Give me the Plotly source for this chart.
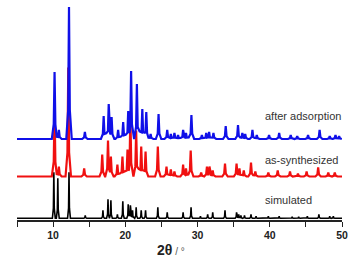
import plotly.graph_objects as go

# ---- data (peak position in 2θ, peak height above baseline) ----
blue_pos = [10.2, 10.8, 12.2, 14.4, 17.0, 17.7, 18.1, 19.0, 19.7, 20.4, 20.8, 21.6, 22.35, 22.9, 23.5,
            24.6, 25.8, 26.3, 26.8, 27.3, 28.0, 28.4, 29.15, 30.6, 31.2, 31.6, 32.2, 33.9, 35.6, 36.2,
            36.6, 37.6, 38.2, 39.9, 41.3, 42.9, 43.8, 45.3, 46.9, 48.3, 49.1, 49.6]
blue_h = [67, 9, 132, 7, 23, 35, 22, 9, 17, 28, 68, 55, 30, 27, 5,
          25, 9, 5, 6, 4, 9, 6, 24, 4, 6, 7, 6, 13, 14, 6,
          5, 9, 4, 4, 6, 4, 3, 4, 9, 3, 4, 3]

red_pos = [10.2, 10.8, 12.1, 14.3, 16.8, 17.6, 18.0, 18.9, 19.6, 20.3, 20.7, 21.5, 22.2, 22.8,
           24.5, 25.7, 26.3, 26.8, 28.0, 28.4, 29.05, 30.5, 31.3, 31.65, 32.1, 33.8, 35.4, 35.8,
           36.4, 37.4, 38.0, 39.8, 41.1, 42.8, 43.9, 45.1, 46.7, 48.1, 49.0]
red_h = [67, 10, 109, 8, 22, 36, 20, 12, 20, 27, 62, 46, 30, 25,
         30, 10, 7, 5, 12, 8, 26, 4, 10, 10, 6, 13, 13, 8,
         6, 14, 5, 4, 6, 5, 3, 5, 9, 4, 4]

black_pos = [10.1, 10.65, 12.2, 14.45, 16.9, 17.6, 18.0, 18.9, 19.65, 20.4, 20.7, 21.0, 21.5, 22.2,
             22.8, 24.5, 25.8, 28.0, 29.1, 30.4, 31.4, 32.1, 33.8, 35.4, 35.7, 36.0, 36.5, 37.4,
             38.1, 39.8, 41.3, 43.1, 44.0, 45.2, 46.8, 48.3, 48.8]
black_h = [46, 40, 46, 3, 8, 19, 18, 4, 17, 14, 13, 8, 11, 8,
           8, 11, 6, 6, 11, 2, 4, 6, 8, 6, 4, 3, 3, 4,
           2, 2, 2, 1.5, 1.5, 2, 4, 2, 2]

series_names = ["simulated", "as-synthesized", "after adsorption"]
x_ticks = [5, 10, 15, 20, 25, 30, 35, 40, 45, 50]
x_tick_text = ["", "10", "", "20", "", "30", "", "40", "", "50"]

# ---- layout / style constants ----
BASE_BLACK, BASE_RED, BASE_BLUE = 1.7, 43.5, 81.0


def peak_line(pos, hts, base, hw, x0=5.0, x1=50.0):
    """Polyline through each peak top, with a shoulder and foot either side."""
    sh = 0.3 * hw
    xs, ys = [x0], [base]
    prev = None
    for p, h in zip(pos, hts):
        if prev is None or prev[0] + hw <= p - hw:
            if prev is not None:
                xs.append(prev[0] + hw); ys.append(base)
            xs.append(p - hw); ys.append(base)
        else:
            xs.append((prev[0] + p) / 2); ys.append(base + 0.25 * min(prev[1], h))
        xs += [p - sh, p, p + sh]
        ys += [base + 0.22 * h, base + h, base + 0.22 * h]
        prev = (p, h)
    xs.append(prev[0] + hw); ys.append(base)
    xs.append(x1); ys.append(base)
    return xs, ys


fig = go.Figure()
bx, by = peak_line(black_pos, black_h, BASE_BLACK, 0.2)
rx, ry = peak_line(red_pos, red_h, BASE_RED, 0.38)
ux, uy = peak_line(blue_pos, blue_h, BASE_BLUE, 0.38)
fig.add_trace(go.Scatter(x=bx, y=by, mode="lines", line=dict(color="#000000", width=1.6),
                         name=series_names[0], hoverinfo="skip"))
fig.add_trace(go.Scatter(x=rx, y=ry, mode="lines", line=dict(color="#f01010", width=2.2),
                         name=series_names[1], hoverinfo="skip"))
fig.add_trace(go.Scatter(x=ux, y=uy, mode="lines", line=dict(color="#1010e8", width=2.2),
                         name=series_names[2], hoverinfo="skip"))

label_y = [20, 60, 104]
for name, yy in zip(series_names, label_y):
    fig.add_annotation(x=39.35, y=yy, text=name, showarrow=False, xanchor="left", yanchor="middle",
                       xshift=-2,
                       font=dict(family="Liberation Sans, Arial", size=11, color="#333333"))

fig.add_annotation(xref="paper", yref="paper", x=0.474, y=-0.136, showarrow=False,
                   xanchor="center", yanchor="middle",
                   text="<b>2θ</b><span style='font-size:10px;color:#555'> / °</span>",
                   font=dict(family="Liberation Sans, Arial", size=14, color="#222222"))

fig.update_layout(
    width=363, height=274,
    margin=dict(l=17, r=21, t=0, b=54),
    paper_bgcolor="white", plot_bgcolor="white",
    showlegend=False,
    xaxis=dict(range=[5, 50], tickvals=x_ticks, ticktext=x_tick_text, ticks="outside",
               ticklen=5, tickwidth=1.3, tickcolor="#222", showline=True, linecolor="#222",
               linewidth=1.5, showgrid=False, zeroline=False,
               tickfont=dict(family="Liberation Sans, Arial", size=10.5, color="#222",
                             weight="bold")),
    yaxis=dict(range=[0, 220], visible=False, showgrid=False, zeroline=False),
)

fig.write_html("out.html", config={"displayModeBar": False},
               post_script="document.body.style.margin='0';document.body.style.padding='0';")
